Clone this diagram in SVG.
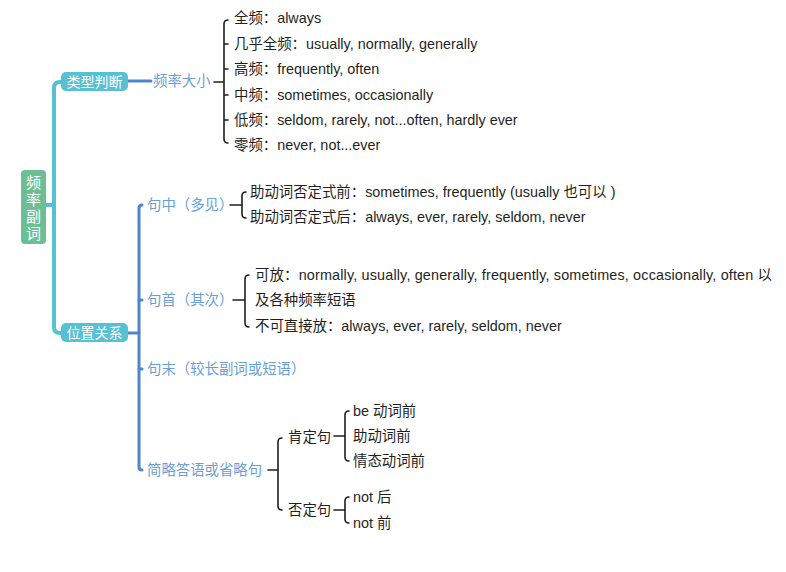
<svg xmlns="http://www.w3.org/2000/svg" width="786" height="572" viewBox="0 0 786 572">
<style>
text{font-family:"Liberation Sans","Noto Sans CJK SC",sans-serif;font-size:14.4px;dominant-baseline:central}
.w{fill:#ffffff;font-size:14px}
.b{fill:#6a9fd6}
.k{fill:#1f1f1f}
.teal{stroke:#55c1d3;stroke-width:4;fill:none;stroke-linecap:round}
.blue{stroke:#4f86c9;stroke-width:3;fill:none;stroke-linecap:round}
.br{stroke:#1f1f1f;stroke-width:1.6;fill:none;stroke-linecap:round}
</style>
<rect width="786" height="572" fill="#ffffff"/>
<g id="connectors">
<path class="teal" d="M46 205H54"/>
<path class="teal" d="M61 82H60Q54 82 54 88V327Q54 333 60 333H61"/>
<path class="blue" d="M128 81H151"/>
<path class="blue" d="M128 333H139"/>
<path class="blue" d="M142 205Q139 205 139 208V467Q139 470 142 470"/>
<path class="blue" d="M139 300H142M139 369H142"/>
<path class="br" d="M214 82H224M228 20Q224 20 224 24V139Q224 143 228 143M224 44H228M224 69H228M224 95H228M224 120H228"/>
<path class="br" d="M230 205H242M246 192Q242 192 242 196V214Q242 218 246 218"/>
<path class="br" d="M233 300H245M249 275Q245 275 245 279V323Q245 327 249 327"/>
<path class="br" d="M268 470H278M282 438Q278 438 278 442V506Q278 510 282 510"/>
<path class="br" d="M334 436H345M349 411Q345 411 345 415V457Q345 461 349 461"/>
<path class="br" d="M334 510H345M349 497Q345 497 345 501V519Q345 523 349 523"/>
</g>
<g id="root"><rect x="21" y="170" width="25" height="74" rx="4" fill="#6cbf94"/>
<text class="w" x="33.5" y="182" text-anchor="middle" style="font-size:15px">频</text><text class="w" x="33.5" y="199" text-anchor="middle" style="font-size:15px">率</text><text class="w" x="33.5" y="216" text-anchor="middle" style="font-size:15px">副</text><text class="w" x="33.5" y="233" text-anchor="middle" style="font-size:15px">词</text></g>
<g id="n-type"><rect x="61" y="72" width="67" height="19" rx="5" fill="#55c1d3"/><text class="w" x="94.5" y="81.5" text-anchor="middle">类型判断</text></g>
<g id="n-pos"><rect x="61" y="323" width="67" height="19" rx="5" fill="#55c1d3"/><text class="w" x="94.5" y="332.5" text-anchor="middle">位置关系</text></g>
<g id="n-freq"><text class="b" x="153" y="81">频率大小</text></g>
<g id="n-f1"><text class="k" x="234" y="18">全频：always</text></g>
<g id="n-f2"><text class="k" x="234" y="44">几乎全频：usually, normally, generally</text></g>
<g id="n-f3"><text class="k" x="234" y="69">高频：frequently, often</text></g>
<g id="n-f4"><text class="k" x="234" y="95">中频：sometimes, occasionally</text></g>
<g id="n-f5"><text class="k" x="234" y="120">低频：seldom, rarely, not...often, hardly ever</text></g>
<g id="n-f6"><text class="k" x="234" y="145">零频：never, not...ever</text></g>
<g id="n-mid"><text class="b" x="147" y="205">句中（多见）</text></g>
<g id="n-mid1"><text class="k" x="250" y="192">助动词否定式前：sometimes, frequently (usually 也可以 )</text></g>
<g id="n-mid2"><text class="k" x="250" y="217">助动词否定式后：always, ever, rarely, seldom, never</text></g>
<g id="n-head"><text class="b" x="147" y="300">句首（其次）</text></g>
<g id="n-head1"><text class="k" x="255" y="275" textLength="517" lengthAdjust="spacing">可放：normally, usually, generally, frequently, sometimes, occasionally, often 以</text><text class="k" x="255" y="300">及各种频率短语</text></g>
<g id="n-head2"><text class="k" x="255" y="326">不可直接放：always, ever, rarely, seldom, never</text></g>
<g id="n-end"><text class="b" x="147" y="369">句末（较长副词或短语）</text></g>
<g id="n-short"><text class="b" x="147" y="470">简略答语或省略句</text></g>
<g id="n-pos-s"><text class="k" x="288" y="437">肯定句</text></g>
<g id="n-ps1"><text class="k" x="353" y="411">be 动词前</text></g>
<g id="n-ps2"><text class="k" x="353" y="436">助动词前</text></g>
<g id="n-ps3"><text class="k" x="353" y="461">情态动词前</text></g>
<g id="n-neg-s"><text class="k" x="288" y="510">否定句</text></g>
<g id="n-ns1"><text class="k" x="353" y="497">not 后</text></g>
<g id="n-ns2"><text class="k" x="353" y="523">not 前</text></g>
</svg>
